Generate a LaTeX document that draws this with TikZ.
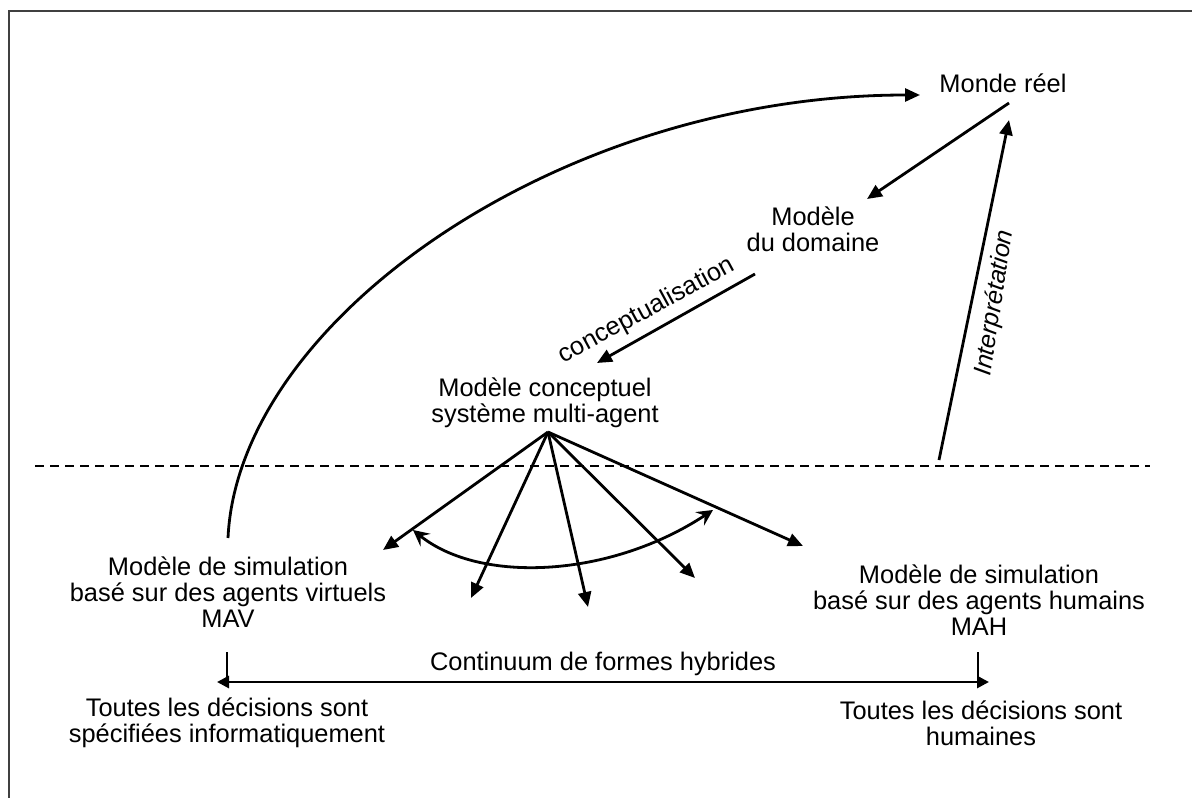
\documentclass[tikz,border=0pt]{standalone}
\usepackage{fontspec}
\setmainfont{Liberation Sans}
\usetikzlibrary{arrows.meta}
\tikzset{
  lbl/.style={inner sep=0pt,align=center,font=\fontsize{25.4}{26}\selectfont,text=black},
  conn/.style={line width=2.8pt,-{Triangle[length=15pt,width=13pt]}},
  dbl/.style={line width=2.8pt,{Stealth[length=16pt,width=16pt,inset=6pt]}-{Stealth[length=16pt,width=16pt,inset=6pt]}},
  plain/.style={line width=1.8pt}
}
\begin{document}
\begin{tikzpicture}[x=1pt,y=-1pt]
\useasboundingbox (0,0) rectangle (1192,798);
\fill[white] (0,0) rectangle (1192,798);
\coordinate (frameA) at (9,798);
\coordinate (frameB) at (9,11);
\coordinate (frameC) at (1192,11);
\draw[line width=2pt,black!75] (frameA) -- (frameB) -- (frameC);

\node[lbl] (monde) at (1003,83) {Monde réel};
\node[lbl] (domaine) at (813,229) {Modèle\\du domaine};
\node[lbl] (concept) at (545,403) {Modèle conceptuel\\système multi-agent};
\node[lbl] (mav) at (228,592) {Modèle de simulation\\basé sur des agents virtuels\\MAV};
\node[lbl] (mah) at (979,600) {Modèle de simulation\\basé sur des agents humains\\MAH};
\node[lbl] (cont) at (603,664) {Continuum de formes hybrides};
\node[lbl] (decinfo) at (227,723) {Toutes les décisions sont\\spécifiées informatiquement};
\node[lbl] (dechum) at (981,723) {Toutes les décisions sont\\humaines};
\node[lbl,rotate=28.4] (lconc) at (647,311) {conceptualisation};
\node[lbl,rotate=81,font=\fontsize{25}{26}\selectfont\itshape] (linter) at (995,303) {Interprétation};

\coordinate (curveS) at (228,538);
\coordinate (curveE) at (920,95);
\draw[conn] (curveS) .. controls (238,320) and (560,95) .. (curveE);

\coordinate (mS) at (1009,103);
\coordinate (mE) at (867,199);
\draw[conn] (mS) -- (mE);
\coordinate (cS) at (755,274);
\coordinate (cE) at (597,363);
\draw[conn] (cS) -- (cE);
\coordinate (iS) at (939,460);
\coordinate (iE) at (1009,120);
\draw[conn] (iS) -- (iE);

\coordinate (dashA) at (35,466);
\coordinate (dashB) at (1150,466);
\draw[line width=2pt,dash pattern=on 9pt off 6pt] (dashA) -- (dashB);

\coordinate (fan) at (548,432);
\coordinate (f1) at (383,550);
\coordinate (f2) at (471,598);
\coordinate (f3) at (588,607);
\coordinate (f4) at (695,578);
\coordinate (f5) at (803,546);
\foreach \e in {f1,f2,f3,f4,f5} \draw[conn] (fan) -- (\e);

\coordinate (arcA) at (413,530);
\coordinate (arcB) at (713,510);
\draw[dbl] (arcA) .. controls (480,584) and (610,578) .. (arcB);

\coordinate (tickL) at (227,652);
\coordinate (tickR) at (978,652);
\coordinate (contL) at (217,682);
\coordinate (contR) at (989,682);
\coordinate (footL) at (227,682);
\coordinate (footR) at (978,682);
\draw[plain] (tickL) -- (footL);
\draw[plain] (tickR) -- (footR);
\draw[line width=2.8pt,{Triangle[length=12pt,width=12pt]}-{Triangle[length=12pt,width=12pt]}] (contL) -- (contR);
\end{tikzpicture}
\end{document}
